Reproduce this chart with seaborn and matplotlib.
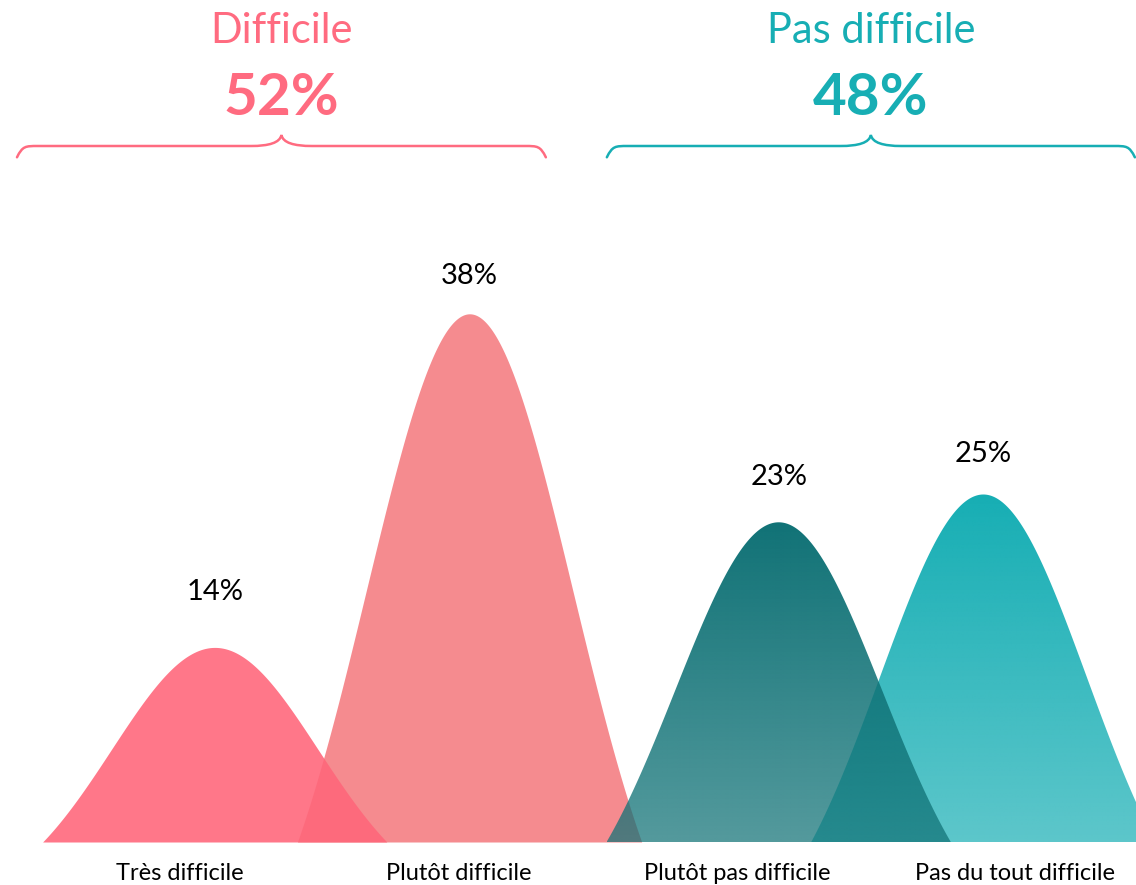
import numpy as np
import pandas as pd
import matplotlib
matplotlib.use("Agg")
import matplotlib.pyplot as plt
from matplotlib.patches import Polygon, PathPatch
from matplotlib.path import Path
from matplotlib.colors import to_rgb
import matplotlib.transforms as mtransforms
import seaborn as sns

# data
categories = ["Très difficile", "Plutôt difficile", "Plutôt pas difficile", "Pas du tout difficile"]
values = [14, 38, 23, 25]
value_labels = ["14%", "38%", "23%", "25%"]
groups = ["Difficile", "Pas difficile"]
group_totals = ["52%", "48%"]

# style / layout
peak_shift = [0.125, 0.04, 0.15, -0.115]      # curve centre vs tick, in category units
label_gap_px = [55, 38, 45, 41]               # value label centre above peak
curve_colors = ["#FF667A", "#F58B8F", "#107276", "#16AEB4"]
alpha_top = [0.89, 1.0, 1.0, 1.0]
alpha_bottom = [0.89, 1.0, 0.72, 0.70]
draw_order = [1, 3, 0, 2]
group_colors = ["#FF6B80", "#17AEB4"]
brace_spans = [(-0.585, 1.314), (1.533, 3.429)]
half_width = 0.618
px_per_pct = 13.9

sns.set_theme(style="white")
plt.rcParams['font.family'] = ['Lato', 'DejaVu Sans']


def bell(u, s=0.6):
    e0 = np.exp(-1 / (2 * s * s))
    return (np.exp(-u ** 2 / (2 * s * s)) - e0) / (1 - e0)


u = np.linspace(-1, 1, 400)
curves = pd.concat([
    pd.DataFrame({'cat': i, 'x': i + peak_shift[i] + u * half_width, 'y': values[i] * bell(u)})
    for i in range(len(categories))
])

fig = plt.figure(figsize=(11.36, 8.85), dpi=100)
ax = fig.add_axes([0, 43 / 885, 1, 842 / 885])

for z, i in enumerate(draw_order):
    d = curves[curves['cat'] == i]
    xs, ys = d['x'].to_numpy(), d['y'].to_numpy()
    if alpha_top[i] == alpha_bottom[i]:
        ax.fill_between(xs, 0, ys, color=curve_colors[i], alpha=alpha_top[i], lw=0, zorder=z + 1)
    else:
        # vertical gradient: solid colour at the top, fading towards the base
        patch = Polygon(np.column_stack([xs, ys]), closed=True, facecolor='none', edgecolor='none')
        ax.add_patch(patch)
        img = np.zeros((256, 1, 4))
        img[..., :3] = to_rgb(curve_colors[i])
        img[..., 3] = np.linspace(alpha_bottom[i], alpha_top[i], 256)[:, None]
        im = ax.imshow(img, extent=[xs.min(), xs.max(), 0, values[i]], origin='lower',
                       aspect='auto', interpolation='bilinear', zorder=z + 1)
        im.set_clip_path(patch)

# value labels above each peak
for i, lab in enumerate(value_labels):
    ax.annotate(lab, (i + peak_shift[i], values[i]), xytext=(0, label_gap_px[i]),
                textcoords='offset pixels', ha='center', va='center', fontsize=21, color='black')

ax.set_xlim(-0.646, 3.433)
ax.set_ylim(0, 842 / px_per_pct)
ax.set_xticks(range(len(categories)))
ax.set_xticklabels(categories, fontsize=17, color='black')
ax.tick_params(axis='x', length=0, pad=15)
ax.set_yticks([])
sns.despine(ax=ax, left=True, bottom=True)


# braces with group headers
def brace(x0, x1, color):
    to_y = lambda py: (842 - py) / px_per_pct
    yE, yH, yT = to_y(157.3), to_y(146), to_y(135)
    xc = (x0 + x1) / 2
    cw, tw = 0.075, 0.11
    verts = [(x0, yE), (x0 + 0.02, yH), (x0 + 0.03, yH), (x0 + cw, yH),
             (xc - tw, yH),
             (xc - 0.4 * tw, yH), (xc - 0.05 * tw, yH + 0.3 * (yT - yH)), (xc, yT),
             (xc + 0.05 * tw, yH + 0.3 * (yT - yH)), (xc + 0.4 * tw, yH), (xc + tw, yH),
             (x1 - cw, yH),
             (x1 - 0.03, yH), (x1 - 0.02, yH), (x1, yE)]
    codes = [Path.MOVETO] + [Path.CURVE4] * 3 + [Path.LINETO] + [Path.CURVE4] * 6 + \
            [Path.LINETO] + [Path.CURVE4] * 3
    ax.add_patch(PathPatch(Path(verts, codes), facecolor='none', edgecolor=color,
                           lw=1.8, capstyle='round', clip_on=False))
    return xc


trans = mtransforms.blended_transform_factory(ax.transData, fig.transFigure)
for g, (x0, x1) in enumerate(brace_spans):
    xc = brace(x0, x1, group_colors[g])
    ax.text(xc, 1 - 42.7 / 885, groups[g], transform=trans, ha='center', va='baseline',
            fontsize=30, color=group_colors[g])
    ax.text(xc, 1 - 115 / 885, group_totals[g], transform=trans, ha='center', va='baseline',
            fontsize=42, fontweight='bold', color=group_colors[g])

fig.savefig('out.png', dpi=100, facecolor='white')
